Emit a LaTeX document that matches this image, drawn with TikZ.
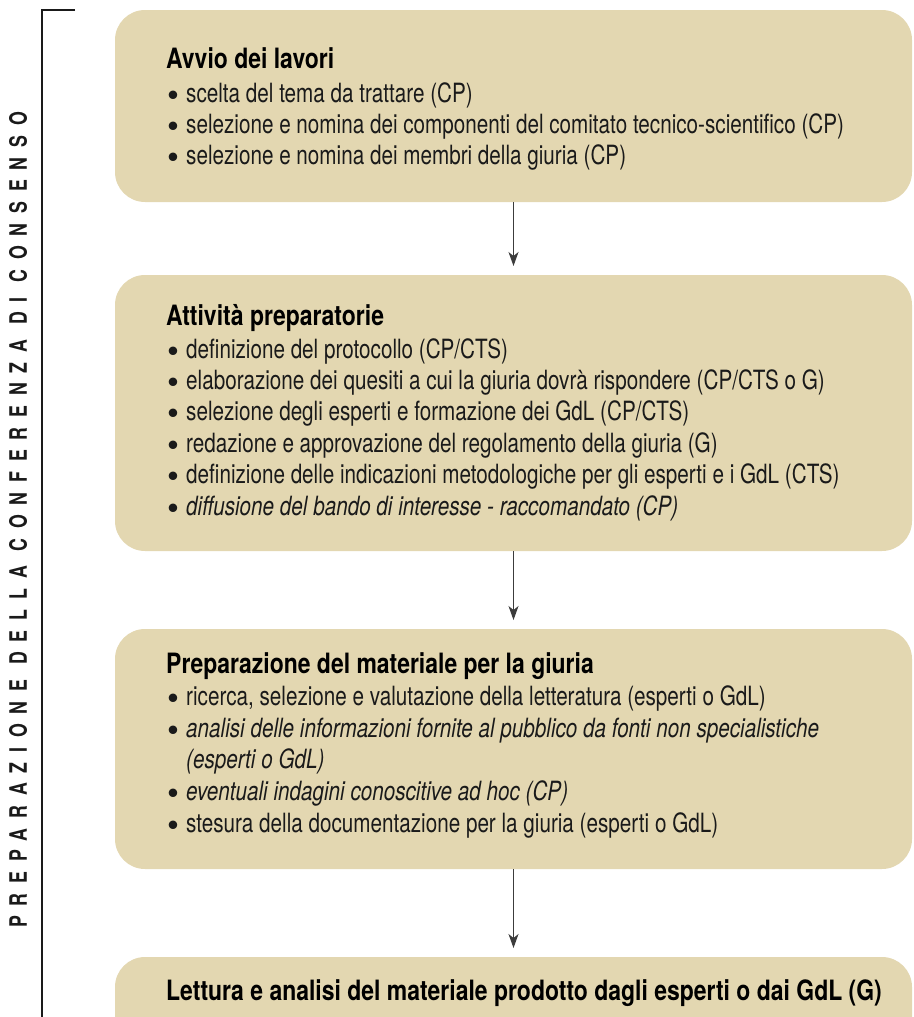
\documentclass[tikz,border=0pt]{standalone}
\usepackage{fontspec}
\setmainfont{TeX Gyre Heros}[FakeStretch=0.78]
\newfontfamily\ttlfont{TeX Gyre Heros}[FakeStretch=0.82]
\newfontfamily\bulfont{TeX Gyre Heros}
\newfontfamily\sidefont{TeX Gyre Heros}[FakeStretch=0.74, LetterSpace=41]
\usetikzlibrary{arrows.meta}
\definecolor{boxfill}{HTML}{E3D7B1}
\definecolor{ink}{HTML}{1A1A1A}
\newcommand\bul{\makebox[19pt][l]{\raisebox{-3pt}{\bulfont\bfseries\upshape\fontsize{34}{30}\selectfont •}}}
\tikzset{
  stage/.style={draw=none, fill=boxfill, rounded corners=30pt, anchor=north west,
    minimum width=797pt, inner sep=0pt, outer sep=0pt},
  ttl/.style={anchor=base west, inner sep=0pt, font=\ttlfont\bfseries\fontsize{28}{30}\selectfont, text=black},
  item/.style={anchor=base west, inner sep=0pt, font=\fontsize{26.5}{30}\selectfont, text=ink},
  flow/.style={draw=ink!85, line width=1pt, -{Stealth[length=14pt,width=10pt,inset=4pt]}, shorten >=9pt},
}
\begin{document}
\begin{tikzpicture}[x=1pt,y=-1pt]
\useasboundingbox (0,0) rectangle (913,1017);
\clip (0,0) rectangle (913,1017);
% bracket
\coordinate (brend) at (75,10);
\coordinate (brtop) at (42,10);
\coordinate (brbot) at (42,1017);
\draw[ink, line width=1.2pt] (brend) -- (brtop) -- (brbot);
\node[rotate=90, anchor=base west, inner sep=0pt, text=ink,
  font=\sidefont\bfseries\fontsize{24}{24}\selectfont] (side) at (27,928)
  {PREPARAZIONE DELLA CONFERENZA DI CONSENSO};
% boxes
\node[stage, minimum height=192pt] (s1) at (115,10) {};
\node[stage, minimum height=276pt] (s2) at (115,275) {};
\node[stage, minimum height=240pt] (s3) at (115,629) {};
\node[stage, minimum height=120pt] (s4) at (115,957) {};
% arrows
\draw[flow] (s1.south) -- (s2.north);
\draw[flow] (s2.south) -- (s3.north);
\draw[flow] (s3.south) -- (s4.north);
% box 1
\node[ttl] (t1) at (166,68) {Avvio dei lavori};
\node[item] (t1a) at (167,102) {\bul scelta del tema da trattare (CP)};
\node[item] (t1b) at (167,133) {\bul selezione e nomina dei componenti del comitato tecnico-scientifico (CP)};
\node[item] (t1c) at (167,164) {\bul selezione e nomina dei membri della giuria (CP)};
% box 2
\node[ttl] (t2) at (166,325) {Attività preparatorie};
\node[item] (t2a) at (167,358) {\bul definizione del protocollo (CP/CTS)};
\node[item] (t2b) at (167,389.4) {\bul elaborazione dei quesiti a cui la giuria dovrà rispondere (CP/CTS o G)};
\node[item] (t2c) at (167,420.8) {\bul selezione degli esperti e formazione dei GdL (CP/CTS)};
\node[item] (t2d) at (167,452.2) {\bul redazione e approvazione del regolamento della giuria (G)};
\node[item] (t2e) at (167,483.6) {\bul definizione delle indicazioni metodologiche per gli esperti e i GdL (CTS)};
\node[item] (t2f) at (167,515) {\bul\itshape diffusione del bando di interesse - raccomandato (CP)};
% box 3
\node[ttl] (t3) at (166,673) {Preparazione del materiale per la giuria};
\node[item] (t3a) at (167,705) {\bul ricerca, selezione e valutazione della letteratura (esperti o GdL)};
\node[item] (t3b) at (167,737) {\bul\itshape analisi delle informazioni fornite al pubblico da fonti non specialistiche};
\node[item, font=\fontsize{26.5}{30}\selectfont\itshape] (t3c) at (186,768) {(esperti o GdL)};
\node[item] (t3d) at (167,800) {\bul\itshape eventuali indagini conoscitive ad hoc (CP)};
\node[item] (t3e) at (167,832) {\bul stesura della documentazione per la giuria (esperti o GdL)};
% box 4
\node[ttl] (t4) at (166,1000) {Lettura e analisi del materiale prodotto dagli esperti o dai GdL (G)};
\end{tikzpicture}
\end{document}
